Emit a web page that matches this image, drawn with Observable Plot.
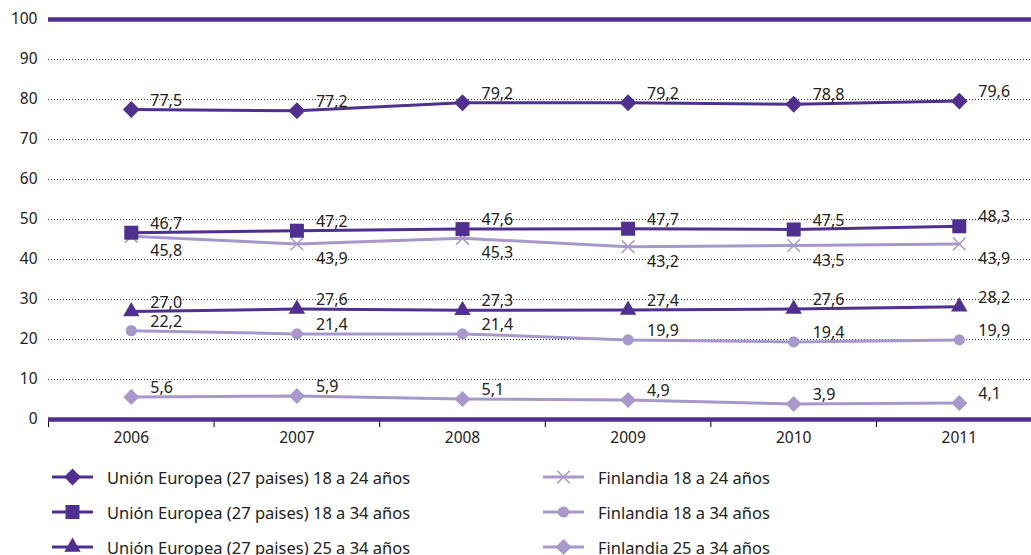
<!DOCTYPE html>
<html><head><meta charset="utf-8">
<script src="https://cdn.jsdelivr.net/npm/d3@7"></script>
<script src="https://cdn.jsdelivr.net/npm/@observablehq/plot@0.6"></script>
<style>
body{margin:0;background:#fff;font-family:"Noto Sans",sans-serif;color:#222;}
#wrap{position:relative;width:1031px;height:555px;overflow:hidden;}
#legend{position:absolute;left:0;top:0;width:1031px;height:555px;pointer-events:none;}
.item{position:absolute;display:flex;align-items:center;font-size:16.5px;white-space:nowrap;height:24px;}
.item svg{margin-right:14px;}
</style></head><body>
<div id="wrap"><div id="chart"></div><div id="legend"></div></div>
<script>
const years = [2006, 2007, 2008, 2009, 2010, 2011];
const seriesNames = [
  "Unión Europea (27 paises) 18 a 24 años",
  "Unión Europea (27 paises) 18 a 34 años",
  "Unión Europea (27 paises) 25 a 34 años",
  "Finlandia 18 a 24 años",
  "Finlandia 18 a 34 años",
  "Finlandia 25 a 34 años"
];
const eu1824 = [77.5, 77.2, 79.2, 79.2, 78.8, 79.6];
const eu1834 = [46.7, 47.2, 47.6, 47.7, 47.5, 48.3];
const eu2534 = [27.0, 27.6, 27.3, 27.4, 27.6, 28.2];
const fi1824 = [45.8, 43.9, 45.3, 43.2, 43.5, 43.9];
const fi1834 = [22.2, 21.4, 21.4, 19.9, 19.4, 19.9];
const fi2534 = [5.6, 5.9, 5.1, 4.9, 3.9, 4.1];
const yTicks = [0, 10, 20, 30, 40, 50, 60, 70, 80, 90, 100];

const DARK = "#4f2f8f", LIGHT = "#a898cb";
const styles = [
  {color: DARK, symbol: "diamond2", r: 7.6, fill: true, dy: -9},
  {color: DARK, symbol: "square", r: 7.9, fill: true, dy: -9},
  {color: DARK, symbol: "triangle", r: 6.1, fill: true, dy: -9},
  {color: LIGHT, symbol: "times", r: 5.8, fill: false, dy: 15},
  {color: LIGHT, symbol: "circle", r: 5.6, fill: true, dy: -9},
  {color: LIGHT, symbol: "diamond2", r: 7.2, fill: true, dy: -9}
];
const values = [eu1824, eu1834, eu2534, fi1824, fi1834, fi2534];
const series = seriesNames.map((name, i) => ({
  name, style: styles[i],
  data: years.map((year, j) => ({year, value: values[i][j]}))
}));

const fmt = v => v.toFixed(1).replace(".", ",");
const boundaries = d3.range(2005.5, 2011.6, 1);

const marks = [
  Plot.ruleY(yTicks.filter(d => d > 0 && d < 100), {stroke: "#333", strokeDasharray: "1,2", strokeWidth: 1}),
  Plot.ruleX(boundaries, {y1: 0, y2: -2, stroke: "#000", strokeWidth: 1}),
  Plot.ruleY([0, 100], {stroke: DARK, strokeWidth: 4.5}),
  Plot.axisY(yTicks, {tickSize: 0, tickPadding: 11, fontSize: 15.5, fill: "#222", label: null}),
  Plot.axisX(years, {tickSize: 0, tickPadding: 12, tickFormat: d => String(d), fontSize: 15.5, fill: "#222", label: null})
];
// draw Finland first so EU lines lie over them
const order = [3, 4, 5, 0, 1, 2];
for (const i of order) {
  const s = series[i], st = s.style;
  marks.push(Plot.line(s.data, {x: "year", y: "value", stroke: st.color, strokeWidth: 3}));
  marks.push(Plot.dot(s.data, {
    x: "year", y: "value", symbol: () => st.symbol, r: st.r,
    fill: st.fill ? st.color : "none", stroke: st.fill ? "none" : st.color,
    strokeWidth: st.fill ? 0 : 1.5
  }));
}
for (const i of order) {
  const s = series[i], st = s.style;
  marks.push(Plot.text(s.data, {
    x: "year", y: "value", text: d => fmt(d.value), dx: 19, dy: st.dy,
    textAnchor: "start", fontSize: 16, fill: "#222"
  }));
}

const chart = Plot.plot({
  width: 1031, height: 460,
  marginLeft: 48, marginRight: 0, marginTop: 19, marginBottom: 41,
  style: {fontFamily: '"Noto Sans", sans-serif', fontSize: "15px", background: "#fff", overflow: "visible"},
  x: {domain: [2005.5, 2011.436], axis: null},
  y: {domain: [0, 100], axis: null},
  symbol: {type: "identity"},
  marks
});
document.getElementById("chart").appendChild(chart);

// legend
const legend = document.getElementById("legend");
const pos = [
  [52, 477], [52, 512], [52, 547], [543, 477], [543, 512], [543, 547]
];
const d3sym = {diamond2: d3.symbolDiamond2, square: d3.symbolSquare, triangle: d3.symbolTriangle, times: d3.symbolTimes, circle: d3.symbolCircle};
series.forEach((s, i) => {
  const st = s.style;
  const div = document.createElement("div");
  div.className = "item";
  div.style.left = pos[i][0] + "px";
  div.style.top = (pos[i][1] - 12) + "px";
  const svg = d3.create("svg").attr("width", 41).attr("height", 24);
  svg.append("line").attr("x1", 0).attr("x2", 41).attr("y1", 12).attr("y2", 12).attr("stroke", st.color).attr("stroke-width", 3);
  svg.append("path").attr("transform", "translate(20.5,12)")
    .attr("d", d3.symbol(d3sym[st.symbol], st.r * st.r * Math.PI)())
    .attr("fill", st.fill ? st.color : "none").attr("stroke", st.fill ? "none" : st.color).attr("stroke-width", 1.5);
  div.appendChild(svg.node());
  const span = document.createElement("span");
  span.textContent = s.name;
  div.appendChild(span);
  legend.appendChild(div);
});
</script>
</body></html>
